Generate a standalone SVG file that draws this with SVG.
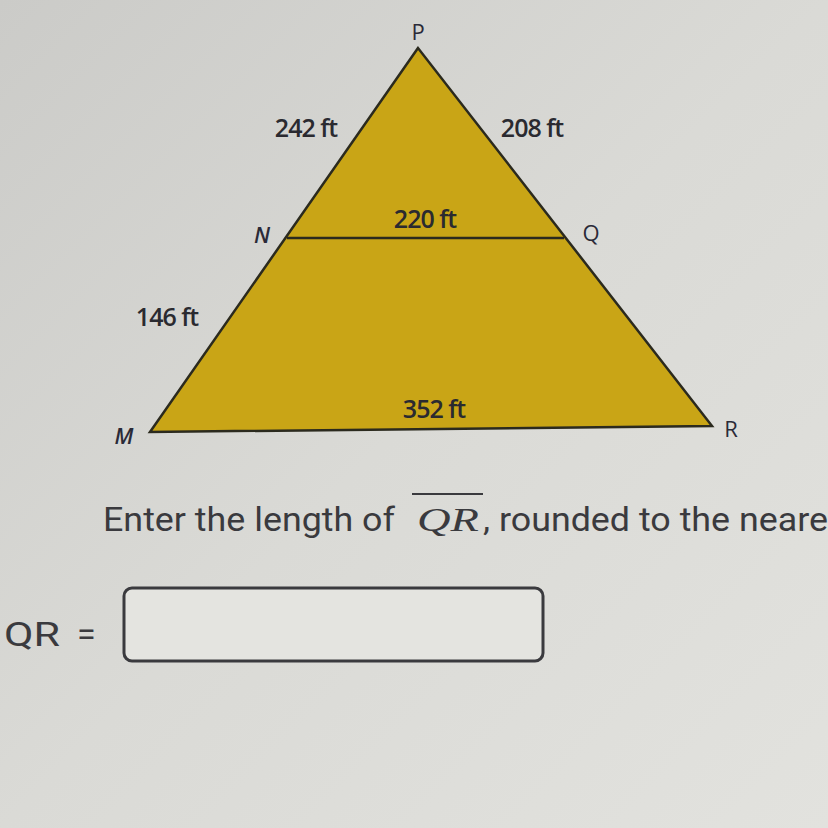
<svg xmlns="http://www.w3.org/2000/svg" width="828" height="828" viewBox="0 0 828 828">
<defs>
<linearGradient id="bg" x1="0" y1="0" x2="1" y2="1">
<stop offset="0" stop-color="#cbcbc8"/>
<stop offset="0.5" stop-color="#dadad6"/>
<stop offset="1" stop-color="#e2e2de"/>
</linearGradient>
<style>
.lbl{font-family:"Open Sans","Liberation Sans",sans-serif;font-size:25px;fill:#2a2a30;font-weight:600;letter-spacing:-1px}
.v{font-family:"Open Sans","Liberation Sans",sans-serif;font-size:22px;fill:#2a2a38}
.q{font-family:"Roboto","Liberation Sans",sans-serif;font-size:34px;fill:#3a3a3e}
.edge{stroke:#2b2a1e;stroke-width:2.5;fill:none}
</style>
</defs>
<rect width="828" height="828" fill="url(#bg)"/>
<g id="triangle">
<polygon points="418,48 150,432 712,426" fill="#c9a516"/>
</g>
<g id="connectors">
<path class="edge" d="M418,48 L150,432 L712,426 Z"/>
<line class="edge" x1="287" y1="238" x2="564" y2="238"/>
</g>
<g id="labels">
<text class="v" x="418" y="40" text-anchor="middle" font-size="17">P</text>
<text class="lbl" x="306" y="137" text-anchor="middle">242 ft</text>
<text class="lbl" x="532" y="137" text-anchor="middle">208 ft</text>
<text class="v" x="262" y="243" text-anchor="middle" font-style="italic" font-weight="600">N</text>
<text class="lbl" x="425" y="228" text-anchor="middle">220 ft</text>
<text class="v" x="591" y="241" text-anchor="middle">Q</text>
<text class="lbl" x="167" y="326" text-anchor="middle">146 ft</text>
<text class="lbl" x="434" y="418" text-anchor="middle">352 ft</text>
<text class="v" x="124" y="444" text-anchor="middle" font-style="italic" font-weight="600">M</text>
<text class="v" x="731" y="437" text-anchor="middle">R</text>
</g>
<g id="question">
<text class="q" x="103" y="531" textLength="292" lengthAdjust="spacingAndGlyphs">Enter the length of</text>
<text x="417" y="531" font-family="'Liberation Serif',serif" font-style="italic" font-size="34" fill="#3a3a3e" textLength="62" lengthAdjust="spacingAndGlyphs">QR</text>
<line x1="412" y1="494" x2="483" y2="494" stroke="#3a3a3e" stroke-width="2"/>
<text class="q" x="483" y="531" textLength="345" lengthAdjust="spacingAndGlyphs">, rounded to the neare</text>
<text class="q" x="4" y="646" textLength="56" lengthAdjust="spacingAndGlyphs">QR</text>
<text class="q" x="77" y="646" fill="#8a8a8a" font-size="30">=</text>
<rect x="124" y="588" width="419" height="73" rx="8" fill="#e4e4e0" stroke="#3a3a3e" stroke-width="3"/>
</g>
</svg>
